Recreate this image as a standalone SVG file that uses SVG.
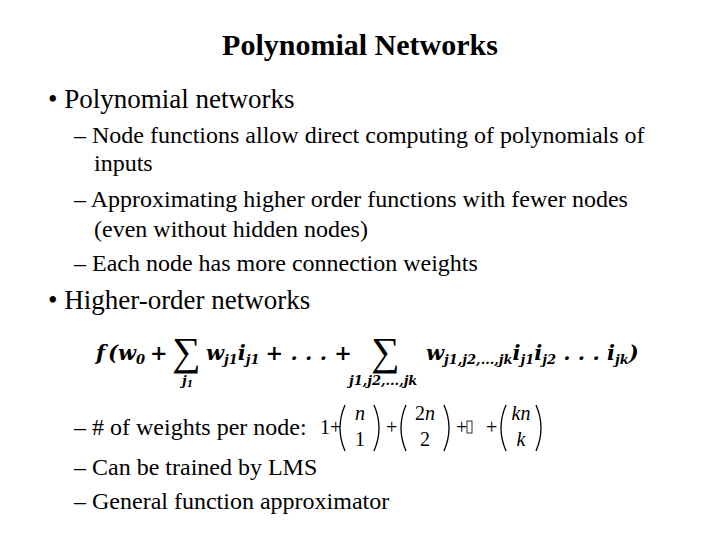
<svg xmlns="http://www.w3.org/2000/svg" width="720" height="540" viewBox="0 0 720 540">
<style>
text{font-family:'Liberation Serif','Times New Roman',Times,serif;fill:#000}
.b{font-size:27px}.s{font-size:24px}
.m{font-family:'DejaVu Serif','Liberation Serif',serif;font-weight:bold;font-style:italic;font-size:21px}
.sub{font-size:13px}
.bin{font-size:20px}
.p{fill:none;stroke:#000;stroke-width:1.3}
</style>
<rect width="720" height="540" fill="#fff"/>
<text x="360" y="55" font-size="30" font-weight="bold" text-anchor="middle">Polynomial Networks</text>
<text class="b" x="48" y="108">• Polynomial networks</text>
<text class="s" x="74" y="143">– Node functions allow direct computing of polynomials of</text>
<text class="s" x="94" y="171">inputs</text>
<text class="s" x="74" y="207">– Approximating higher order functions with fewer nodes</text>
<text class="s" x="94" y="237">(even without hidden nodes)</text>
<text class="s" x="74" y="271">– Each node has more connection weights</text>
<text class="b" x="48" y="309">• Higher-order networks</text>
<g id="formula">
<text class="m" x="96" y="360">f<tspan dx="3">(w</tspan><tspan class="sub" dy="4">0</tspan><tspan dy="-4" dx="5">+</tspan></text>
<text x="172" y="365" font-size="40">∑</text>
<text class="m sub" x="182" y="385">j<tspan font-size="9" dy="2">1</tspan></text>
<text class="m" x="206" y="360">w<tspan class="sub" dy="4">j1</tspan><tspan dy="-4">i</tspan><tspan class="sub" dy="4">j1</tspan><tspan dy="-4" dx="6">+ . . . +</tspan></text>
<text x="371" y="365" font-size="40">∑</text>
<text class="m sub" x="349" y="385">j1,j2,...,jk</text>
<text class="m" x="426" y="360">w<tspan class="sub" dy="4">j1,j2,...,jk</tspan><tspan dy="-4">i</tspan><tspan class="sub" dy="4">j1</tspan><tspan dy="-4">i</tspan><tspan class="sub" dy="4">j2</tspan><tspan dy="-4"> . . . i</tspan><tspan class="sub" dy="4">jk</tspan><tspan dy="-4">)</tspan></text>
</g>
<text class="s" x="74" y="435">– # of weights per node:</text>
<g id="binomials">
<text class="bin" x="320" y="434" font-size="17">1+</text>
<path class="p" d="M345 405 Q335 428 345 451"/><path class="p" d="M374 405 Q384 428 374 451"/>
<text class="bin" x="360" y="420" text-anchor="middle" font-style="italic">n</text>
<text class="bin" x="360" y="446" text-anchor="middle">1</text>
<text class="bin" x="386" y="434" font-size="17">+</text>
<path class="p" d="M406 405 Q396 428 406 451"/><path class="p" d="M444 405 Q454 428 444 451"/>
<text class="bin" x="425" y="420" text-anchor="middle">2<tspan font-style="italic">n</tspan></text>
<text class="bin" x="425" y="446" text-anchor="middle">2</text>
<text class="bin" x="456" y="434" font-size="17">+</text>
<rect x="467" y="421" width="5" height="12" fill="none" stroke="#000" stroke-width="0.8"/>
<text class="bin" x="486" y="434" font-size="17">+</text>
<path class="p" d="M506 405 Q496 428 506 451"/><path class="p" d="M536 405 Q546 428 536 451"/>
<text class="bin" x="521" y="420" text-anchor="middle" font-style="italic">kn</text>
<text class="bin" x="521" y="446" text-anchor="middle" font-style="italic">k</text>
</g>
<text class="s" x="74" y="475">– Can be trained by LMS</text>
<text class="s" x="74" y="509">– General function approximator</text>
</svg>
